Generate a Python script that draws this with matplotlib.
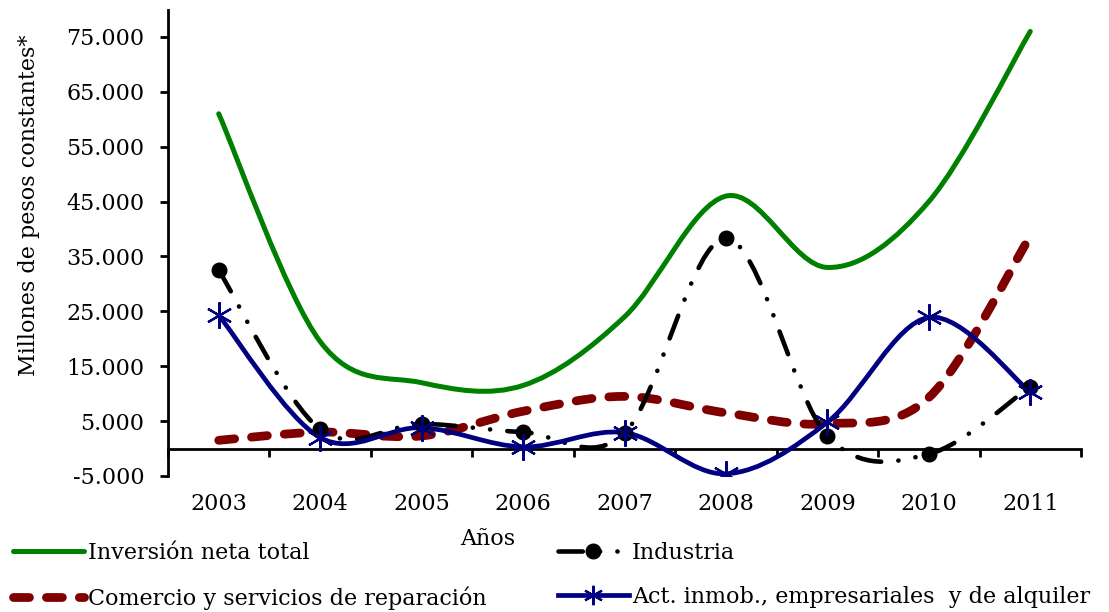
import numpy as np
import matplotlib
matplotlib.use("Agg")
import matplotlib.pyplot as plt
from matplotlib.path import Path
from matplotlib.patches import PathPatch
from matplotlib.lines import Line2D

# ── DATA ──────────────────────────────────────────────────────────────────────
years = ["2003", "2004", "2005", "2006", "2007", "2008", "2009", "2010", "2011"]
inversion_total = [61000, 19500, 12000, 11500, 24000, 46000, 33000, 45000, 76000]
industria = [32500, 3500, 4500, 3000, 2800, 38300, 2300, -1000, 11300]
comercio = [1500, 3000, 2300, 6800, 9500, 6500, 4500, 9300, 38700]
inmobiliarias = [24300, 2000, 3800, 300, 2900, -4600, 4800, 23900, 10300]

labels = ["Inversión neta total", "Comercio y servicios de reparación",
          "Industria", "Act. inmob., empresariales  y de alquiler"]

plt.rcParams['font.family'] = ['DejaVu Serif']
plt.rcParams['lines.scale_dashes'] = False


def smooth_path(x, y):
    # Excel-style smoothed line: cubic bezier through every point
    pts = np.column_stack([np.asarray(x, float), np.asarray(y, float)])
    ext = np.vstack([pts[0], pts, pts[-1]])
    verts = [pts[0]]
    codes = [Path.MOVETO]
    for i in range(len(pts) - 1):
        p0, p1, p2, p3 = ext[i], ext[i + 1], ext[i + 2], ext[i + 3]
        verts += [p1 + (p2 - p0) / 6, p2 - (p3 - p1) / 6, p2]
        codes += [Path.CURVE4] * 3
    return Path(verts, codes)


GREEN = "#008000"
MAROON = "#7f0000"
NAVY = "#000080"
FS = 16

DASH_RED = (0, (11.5, 12.2))
DASH_BLACK = (0, (17.5, 12.4, 0.1, 12.4, 0.1, 12.4))

style_green = dict(color=GREEN, lw=3.6, ls="-")
style_red = dict(color=MAROON, lw=6.3, ls=DASH_RED)
style_black = dict(color="black", lw=3.3, ls=DASH_BLACK)
style_blue = dict(color=NAVY, lw=3.4, ls="-")

fig = plt.figure(figsize=(11.09, 6.12), dpi=100)
ax = fig.add_axes([168 / 1109, 1 - 476 / 612, (1081 - 168) / 1109, (476 - 9.5) / 612])

x = np.arange(len(years))

for vals, st in [(inversion_total, style_green), (comercio, style_red),
                 (industria, style_black), (inmobiliarias, style_blue)]:
    ax.add_patch(PathPatch(smooth_path(x, vals), fill=False, edgecolor=st["color"],
                           lw=st["lw"], ls=st["ls"], capstyle="round",
                           joinstyle="round", zorder=3))

ax.plot(x, industria, ls="none", marker="o", ms=10.5, color="black", zorder=4)
ax.plot(x, inmobiliarias, ls="none", marker=(6, 2, 0), ms=19, mew=1.6,
        color=NAVY, zorder=5)

ax.set_xlim(-0.5, len(years) - 0.5)
ax.set_ylim(-5000, 80000)
ax.set_yticks(np.arange(-5000, 80000, 10000))
ax.set_yticklabels([f"{v:,}".replace(",", ".") for v in range(-5000, 80000, 10000)])

ax.spines["top"].set_visible(False)
ax.spines["right"].set_visible(False)
ax.spines["left"].set_linewidth(2)
ax.spines["bottom"].set_position(("data", 0))
ax.spines["bottom"].set_linewidth(2)

ax.set_xticks(x)
ax.set_xticklabels(years)
ax.set_xticks(np.arange(-0.5, len(years)), minor=True)
ax.tick_params(axis="x", which="major", length=0, pad=32, labelsize=FS)
ax.tick_params(axis="x", which="minor", length=6, width=2, direction="out")
ax.tick_params(axis="y", length=6, width=2, direction="out", labelsize=FS, pad=11)

fig.text(29 / 1109, 1 - 205 / 612, "Millones de pesos constantes*", rotation=90,
         ha="center", va="center", fontsize=FS)
fig.text(488 / 1109, 1 - 539 / 612, "Años", ha="center", va="center", fontsize=FS)

handles = [
    Line2D([], [], color=GREEN, lw=3.6, solid_capstyle="round"),
    Line2D([], [], color=MAROON, lw=6.3, ls=DASH_RED, dash_capstyle="round"),
    Line2D([], [], color="black", lw=3.3, ls=DASH_BLACK,
           dash_capstyle="round", marker="o", ms=10.5),
    Line2D([], [], color=NAVY, lw=3.4, marker=(6, 2, 0), ms=14, mew=1.6),
]
fig.legend(handles, labels, ncol=2, loc="lower left", bbox_to_anchor=(0.0, -0.018),
           frameon=False, fontsize=FS, handlelength=3.2, handletextpad=0.15,
           columnspacing=3.2, labelspacing=1.0, borderaxespad=0.2)

fig.savefig("out.png", dpi=100)
